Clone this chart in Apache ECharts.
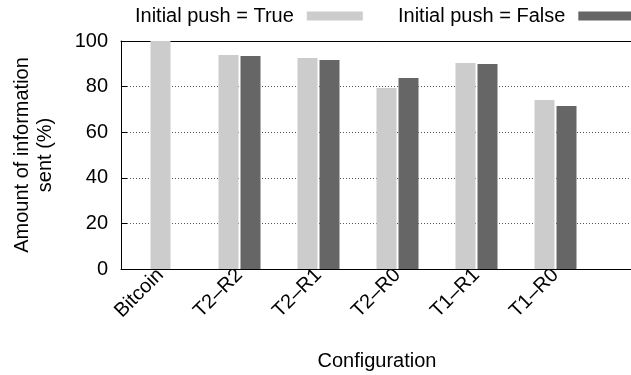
<!DOCTYPE html>
<html>
<head>
<meta charset="utf-8">
<script src="https://cdn.jsdelivr.net/npm/echarts@6/dist/echarts.min.js"></script>
<style>
html,body{margin:0;padding:0;background:#fff;}
#c{width:631px;height:375px;}
</style>
</head>
<body>
<div id="c"></div>
<script>
// ---- data ----
var categories = ['Bitcoin', 'T2\u2013R2', 'T2\u2013R1', 'T2\u2013R0', 'T1\u2013R1', 'T1\u2013R0', ''];
var trueValues  = [100, 93.9, 92.5, 79.4, 90.4, 74.1, null];
var falseValues = [null, 93.4, 91.7, 83.8, 89.9, 71.5, null];
var yTicks = [0, 20, 40, 60, 80, 100];
var seriesNames = ['Initial push = True', 'Initial push = False'];

// categories with only one value get a centred single bar
var singleData = trueValues.map(function (v, i) { return falseValues[i] == null ? v : null; });
var pairedTrue = trueValues.map(function (v, i) { return falseValues[i] == null ? null : v; });

var FONT = 'Liberation Sans';
var chart = echarts.init(document.getElementById('c'), null, {renderer: 'canvas'});
var legendBase = {
  top: 6, padding: 0, itemWidth: 56, itemHeight: 9, align: 'right', icon: 'rect',
  textStyle: {fontFamily: FONT, fontSize: 20, color: '#000', padding: [0, 8, 0, 0]},
  selectedMode: false
};
chart.setOption({
  animation: false,
  textStyle: {fontFamily: FONT},
  legend: [
    Object.assign({}, legendBase, {left: 135, data: [seriesNames[0]]}),
    Object.assign({}, legendBase, {left: 398, data: [seriesNames[1]]})
  ],
  grid: {left: 121, top: 41, height: 228, width: 553, containLabel: false, outerBoundsMode: 'none'},
  xAxis: [{
    type: 'category', data: categories, position: 'bottom',
    axisLine: {lineStyle: {color: '#000', width: 1}},
    axisTick: {inside: true, alignWithLabel: true, length: 5, lineStyle: {color: '#000'},
      interval: function (i, v) { return v !== ''; }},
    axisLabel: {rotate: 45, fontSize: 20, color: '#000', fontFamily: FONT, margin: 3, interval: 0},
    name: 'Configuration', nameLocation: 'middle', nameGap: 82,
    nameTextStyle: {fontSize: 20, color: '#000', fontFamily: FONT, padding: [0, 41, 0, 0]}
  }, {
    type: 'category', data: categories, position: 'top',
    axisLine: {lineStyle: {color: '#000', width: 1}},
    axisTick: {inside: true, alignWithLabel: true, length: 6, lineStyle: {color: '#000'},
      interval: function (i, v) { return v !== ''; }},
    axisLabel: {show: false}
  }],
  yAxis: {
    type: 'value', min: 0, max: 100, interval: 20,
    axisLine: {show: true, lineStyle: {color: '#000', width: 1}},
    axisTick: {show: true, inside: true, length: 6, lineStyle: {color: '#000'}},
    axisLabel: {fontSize: 20, color: '#000', fontFamily: FONT, margin: 13,
      formatter: function (v) { return yTicks.indexOf(v) >= 0 ? String(v) : ''; }},
    splitLine: {show: true, lineStyle: {color: '#555', type: [1, 2], width: 1}},
    name: 'Amount of information\nsent (%)', nameLocation: 'middle', nameGap: 64, nameRotate: 90,
    nameTextStyle: {fontSize: 20, color: '#000', fontFamily: FONT, lineHeight: 23, align: 'center'}
  },
  series: [
    {name: seriesNames[0], type: 'bar', xAxisIndex: 0, data: pairedTrue, barWidth: 20, barGap: '10%',
      itemStyle: {color: '#cccccc'}},
    {name: seriesNames[1], type: 'bar', xAxisIndex: 0, data: falseValues, barWidth: 20, barGap: '10%',
      itemStyle: {color: '#666666'}},
    {name: 'single', type: 'bar', xAxisIndex: 1, data: singleData, barWidth: 20,
      itemStyle: {color: '#cccccc'}}
  ]
});
</script>
</body>
</html>
